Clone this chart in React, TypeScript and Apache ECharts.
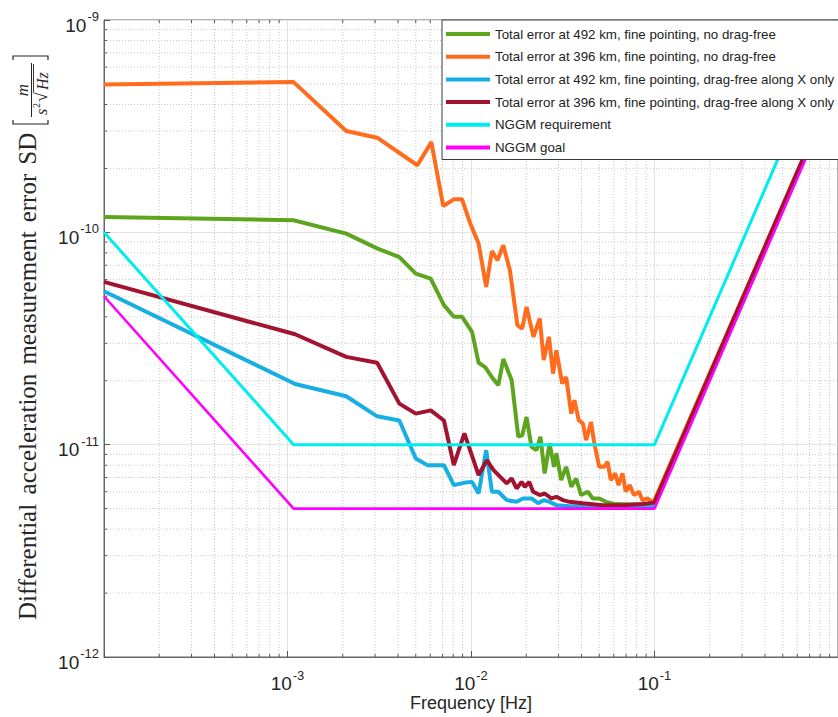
import React, { useEffect, useRef } from "react";
import * as echarts from "echarts";

// ---------- data ----------
const seriesNames = [
  "Total error at 492 km, fine pointing, no drag-free",
  "Total error at 396 km, fine pointing, no drag-free",
  "Total error at 492 km, fine pointing, drag-free along X only",
  "Total error at 396 km, fine pointing, drag-free along X only",
  "NGGM requirement",
  "NGGM goal",
];
const seriesColors = ["#5ea51f", "#ff6c1e", "#17afe3", "#a2132f", "#00eded", "#ff00ff"];
const seriesWidths = [4, 4, 4, 4, 3, 2.6];

const freqGreen = [1e-4, 1.08e-3, 2.09e-3, 3.1e-3, 4.07e-3, 5.0e-3, 6.03e-3, 7.12e-3, 8.06e-3, 8.94e-3, 1.013e-2, 1.1e-2, 1.195e-2, 1.3e-2, 1.41e-2, 1.5e-2, 1.666e-2, 1.81e-2, 1.905e-2, 2.007e-2, 2.136e-2, 2.274e-2, 2.39e-2, 2.52e-2, 2.68e-2, 2.835e-2, 2.92e-2, 3.1e-2, 3.3e-2, 3.52e-2, 3.74e-2, 3.98e-2, 4.33e-2, 4.61e-2, 5.0e-2, 5.43e-2, 6.12e-2, 0.1, 1];
const valGreen = [1.18e-10, 1.14e-10, 9.86e-11, 8.38e-11, 7.65e-11, 6.39e-11, 6.05e-11, 4.54e-11, 4.0e-11, 4.0e-11, 3.4e-11, 2.43e-11, 2.32e-11, 2.08e-11, 1.905e-11, 2.53e-11, 2.01e-11, 1.09e-11, 1.11e-11, 1.35e-11, 9.76e-12, 9.42e-12, 1.09e-11, 7.32e-12, 1.013e-11, 7.86e-12, 9.09e-12, 6.81e-12, 7.86e-12, 6.33e-12, 6.93e-12, 5.79e-12, 6.0e-12, 5.58e-12, 5.58e-12, 5.38e-12, 5.25e-12, 5.2e-12, 5.2e-10];

const freqOrange = [1e-4, 1.08e-3, 2.09e-3, 3.08e-3, 5.1e-3, 6.08e-3, 7.06e-3, 8.06e-3, 8.94e-3, 9.91e-3, 1.1e-2, 1.21e-2, 1.3e-2, 1.394e-2, 1.5e-2, 1.63e-2, 1.79e-2, 1.9e-2, 2.007e-2, 2.19e-2, 2.37e-2, 2.49e-2, 2.66e-2, 2.8e-2, 2.92e-2, 3.14e-2, 3.3e-2, 3.52e-2, 3.66e-2, 3.87e-2, 4.07e-2, 4.24e-2, 4.51e-2, 4.7e-2, 5.0e-2, 5.32e-2, 5.55e-2, 5.78e-2, 6.1e-2, 6.37e-2, 6.69e-2, 6.97e-2, 7.33e-2, 7.73e-2, 8.23e-2, 8.58e-2, 9.13e-2, 9.72e-2, 0.1, 1];
const valOrange = [4.97e-10, 5.1e-10, 3.0e-10, 2.79e-10, 2.07e-10, 2.66e-10, 1.33e-10, 1.43e-10, 1.43e-10, 1.1e-10, 8.85e-11, 5.53e-11, 8.17e-11, 7.38e-11, 8.69e-11, 6.62e-11, 3.65e-11, 3.52e-11, 4.45e-11, 3.22e-11, 3.93e-11, 2.5e-11, 3.22e-11, 2.16e-11, 2.78e-11, 1.94e-11, 2.08e-11, 1.4e-11, 1.62e-11, 1.3e-11, 1.26e-11, 1.05e-11, 1.28e-11, 1.013e-11, 7.86e-12, 7.86e-12, 8.3e-12, 6.81e-12, 7.32e-12, 6.45e-12, 7.32e-12, 6.0e-12, 6.45e-12, 5.79e-12, 6.0e-12, 5.48e-12, 5.58e-12, 5.38e-12, 5.48e-12, 5.3e-10];

const freqBlue = [1e-4, 1.1e-3, 2.09e-3, 3.08e-3, 4.07e-3, 5.0e-3, 5.78e-3, 7.12e-3, 8.06e-3, 9.13e-3, 1.013e-2, 1.1e-2, 1.21e-2, 1.3e-2, 1.41e-2, 1.565e-2, 1.773e-2, 1.92e-2, 2.136e-2, 2.32e-2, 2.49e-2, 2.68e-2, 2.92e-2, 3.44e-2, 0.1, 1];
const valBlue = [5.28e-11, 1.93e-11, 1.69e-11, 1.36e-11, 1.3e-11, 8.61e-12, 8.01e-12, 8.01e-12, 6.45e-12, 6.61e-12, 6.68e-12, 5.89e-12, 9.42e-12, 6.0e-12, 6.0e-12, 5.48e-12, 5.38e-12, 5.58e-12, 5.58e-12, 5.3e-12, 5.48e-12, 5.38e-12, 5.19e-12, 5.13e-12, 5.13e-12, 5.13e-10];

const freqRed = [1e-4, 1.1e-3, 2.09e-3, 3.08e-3, 4.07e-3, 5.0e-3, 6.03e-3, 7.12e-3, 8.06e-3, 9.2e-3, 1.1e-2, 1.22e-2, 1.327e-2, 1.565e-2, 1.666e-2, 1.773e-2, 1.887e-2, 1.966e-2, 2.077e-2, 2.18e-2, 2.37e-2, 2.52e-2, 2.74e-2, 2.92e-2, 3.17e-2, 3.44e-2, 4.07e-2, 5.22e-2, 6.69e-2, 8.58e-2, 9.72e-2, 0.1, 1];
const valRed = [5.84e-11, 3.31e-11, 2.59e-11, 2.43e-11, 1.56e-11, 1.4e-11, 1.45e-11, 1.3e-11, 8.01e-12, 1.13e-11, 7.19e-12, 8.45e-12, 7.59e-12, 6.57e-12, 6.93e-12, 6.22e-12, 6.68e-12, 6.33e-12, 6.68e-12, 6.0e-12, 5.79e-12, 5.89e-12, 5.58e-12, 5.68e-12, 5.48e-12, 5.38e-12, 5.3e-12, 5.19e-12, 5.19e-12, 5.25e-12, 5.32e-12, 5.35e-12, 5.35e-10];

const freqReq = [1e-4, 1.08e-3, 0.1, 1];
const valReq = [1e-10, 1e-11, 1e-11, 1e-9];
const freqGoal = [1e-4, 1.08e-3, 0.1, 1];
const valGoal = [5e-11, 5e-12, 5e-12, 5e-10];

const xMinor = [2e-4, 3e-4, 4e-4, 5e-4, 6e-4, 7e-4, 8e-4, 9e-4, 2e-3, 3e-3, 4e-3, 5e-3, 6e-3, 7e-3, 8e-3, 9e-3, 2e-2, 3e-2, 4e-2, 5e-2, 6e-2, 7e-2, 8e-2, 9e-2, 2e-1, 3e-1, 4e-1, 5e-1, 6e-1, 7e-1, 8e-1, 9e-1];
const yMinor = [2e-12, 3e-12, 4e-12, 5e-12, 6e-12, 7e-12, 8e-12, 9e-12, 2e-11, 3e-11, 4e-11, 5e-11, 6e-11, 7e-11, 8e-11, 9e-11, 2e-10, 3e-10, 4e-10, 5e-10, 6e-10, 7e-10, 8e-10, 9e-10];

const xTickLabels = [1e-3, 1e-2, 1e-1];
const yTickLabels = [1e-12, 1e-11, 1e-10, 1e-9];

const X_MIN = 1e-4;
const X_MAX = 1;
const Y_MIN = 1e-12;
const Y_MAX = 1e-9;

const xLabel = "Frequency [Hz]";
const yLabelWords = ["Differential", "acceleration", "measurement", "error", "SD"];

const pairs = (f: number[], v: number[]) => f.map((x, i) => [x, v[i]]);

const SANS = "'Liberation Sans', Arial, Helvetica, sans-serif";
const SERIF = "'Liberation Serif', 'Times New Roman', serif";
const INK = "#262626";
const BASE_FS = 19;
const SUP_FS = 13;
const supWidth = (s: string) => {
  let w = 0;
  for (const c of s) w += c === "-" ? 0.333 : 0.556;
  return w * SUP_FS;
};
const baseWidth = 1.112 * BASE_FS;

export default function App() {
  const ref = useRef<HTMLDivElement>(null);

  useEffect(() => {
    if (!ref.current) return;
    const chart = echarts.init(ref.current, undefined, { renderer: "svg" });

    const datasets = [
      pairs(freqGreen, valGreen),
      pairs(freqOrange, valOrange),
      pairs(freqBlue, valBlue),
      pairs(freqRed, valRed),
      pairs(freqReq, valReq),
      pairs(freqGoal, valGoal),
    ];

    const minorV = {
      type: "custom",
      silent: true,
      z: 1,
      data: xMinor.map((x) => [x, Y_MIN]),
      renderItem: (params: any, api: any) => {
        const p = api.coord([api.value(0), api.value(1)]);
        const cs = params.coordSys;
        return {
          type: "group",
          children: [
            { type: "line", shape: { x1: p[0], y1: cs.y, x2: p[0], y2: cs.y + cs.height }, style: { stroke: "#c8c8c8", lineWidth: 1, lineDash: [1, 2] } },
            { type: "line", shape: { x1: p[0], y1: cs.y + cs.height, x2: p[0], y2: cs.y + cs.height - 3 }, style: { stroke: "#555", lineWidth: 1 } },
            { type: "line", shape: { x1: p[0], y1: cs.y, x2: p[0], y2: cs.y + 3 }, style: { stroke: "#555", lineWidth: 1 } },
          ],
        };
      },
    };
    const minorH = {
      type: "custom",
      silent: true,
      z: 1,
      data: yMinor.map((y) => [X_MIN, y]),
      renderItem: (params: any, api: any) => {
        const p = api.coord([api.value(0), api.value(1)]);
        const cs = params.coordSys;
        return {
          type: "group",
          children: [
            { type: "line", shape: { x1: cs.x, y1: p[1], x2: cs.x + cs.width, y2: p[1] }, style: { stroke: "#c8c8c8", lineWidth: 1, lineDash: [1, 2] } },
            { type: "line", shape: { x1: cs.x, y1: p[1], x2: cs.x + 3, y2: p[1] }, style: { stroke: "#555", lineWidth: 1 } },
          ],
        };
      },
    };

    // tick labels "10^n" drawn through the axes' scales
    const xLabels = {
      type: "custom",
      silent: true,
      z: 5,
      clip: false,
      data: xTickLabels.map((x) => [x, Y_MIN]),
      renderItem: (params: any, api: any) => {
        const v = api.value(0);
        const p = api.coord([v, Y_MIN]);
        const e = String(Math.round(Math.log10(v)));
        const total = baseWidth + 1 + supWidth(e);
        const left = p[0] - total / 2;
        return {
          type: "group",
          children: [
            { type: "text", x: left, y: p[1] + 26, style: { text: "10", fontSize: BASE_FS, fontFamily: SANS, fill: INK, align: "left", verticalAlign: "middle" } },
            { type: "text", x: left + baseWidth + 1, y: p[1] + 18.5, style: { text: e, fontSize: SUP_FS, fontFamily: SANS, fill: INK, align: "left", verticalAlign: "middle" } },
          ],
        };
      },
    };
    const yLabels = {
      type: "custom",
      silent: true,
      z: 5,
      clip: false,
      data: yTickLabels.map((y) => [X_MIN, y]),
      renderItem: (params: any, api: any) => {
        const v = api.value(1);
        const p = api.coord([X_MIN, v]);
        const e = String(Math.round(Math.log10(v)));
        const right = p[0] - 5;
        return {
          type: "group",
          children: [
            { type: "text", x: right - supWidth(e) - 1, y: p[1] + 5, style: { text: "10", fontSize: BASE_FS, fontFamily: SANS, fill: INK, align: "right", verticalAlign: "middle" } },
            { type: "text", x: right, y: p[1] - 3.5, style: { text: e, fontSize: SUP_FS, fontFamily: SANS, fill: INK, align: "right", verticalAlign: "middle" } },
          ],
        };
      },
    };

    const lineSeries = seriesNames.map((name, i) => ({
      name,
      type: "line",
      data: datasets[i],
      showSymbol: false,
      symbol: "none",
      z: 3,
      clip: true,
      lineStyle: { color: seriesColors[i], width: seriesWidths[i] },
      itemStyle: { color: seriesColors[i] },
      emphasis: { disabled: true },
    }));

    // y-axis title (rotated, built from text elements)
    const wordPos = [0, 125.6, 255.4, 397.7, 455.3];
    const yTitle = {
      type: "group",
      x: 27,
      y: 620,
      rotation: Math.PI / 2,
      silent: true,
      children: [
        ...yLabelWords.map((w, i) => ({
          type: "text",
          x: wordPos[i],
          y: 0,
          style: { text: w, fontFamily: SERIF, fontSize: 25, fill: INK, align: "left", verticalAlign: "middle" },
        })),
        { type: "polyline", shape: { points: [[500, -14], [496, -14], [496, 21], [500, 21]] }, style: { stroke: INK, lineWidth: 1.2, fill: null } },
        { type: "polyline", shape: { points: [[560, -14], [564, -14], [564, 21], [560, 21]] }, style: { stroke: INK, lineWidth: 1.2, fill: null } },
        { type: "line", shape: { x1: 503, y1: 4.5, x2: 557, y2: 4.5 }, style: { stroke: INK, lineWidth: 1 } },
        { type: "text", x: 530, y: -4.5, style: { text: "m", fontFamily: SERIF, fontStyle: "italic", fontSize: 17, fill: INK, align: "center", verticalAlign: "middle" } },
        { type: "text", x: 505, y: 14.5, style: { text: "s", fontFamily: SERIF, fontStyle: "italic", fontSize: 16, fill: INK, align: "left", verticalAlign: "middle" } },
        { type: "text", x: 512, y: 9, style: { text: "2", fontFamily: SERIF, fontSize: 10, fill: INK, align: "left", verticalAlign: "middle" } },
        { type: "text", x: 518, y: 13.5, style: { text: "\u221A", fontFamily: SERIF, fontSize: 18, fill: INK, align: "left", verticalAlign: "middle" } },
        { type: "line", shape: { x1: 528, y1: 6.5, x2: 556, y2: 6.5 }, style: { stroke: INK, lineWidth: 0.9 } },
        { type: "text", x: 530, y: 15, style: { text: "Hz", fontFamily: SERIF, fontStyle: "italic", fontSize: 16, fill: INK, align: "left", verticalAlign: "middle" } },
      ],
    };

    const option: any = {
      animation: false,
      backgroundColor: "#ffffff",
      grid: {
        left: 104,
        top: 20,
        width: 740,
        height: 637,
        show: true,
        borderColor: "#666",
        borderWidth: 1,
        backgroundColor: "transparent",
        containLabel: false,
      },
      xAxis: {
        type: "log",
        logBase: 10,
        min: X_MIN,
        max: X_MAX,
        name: xLabel,
        nameLocation: "middle",
        nameGap: 37,
        nameTextStyle: { fontFamily: SANS, fontSize: 18, color: INK },
        axisLine: { show: true, lineStyle: { color: "#666", width: 1 } },
        axisTick: { show: true, inside: true, length: 6, lineStyle: { color: "#555" } },
        axisLabel: { show: false },
        splitLine: { show: true, lineStyle: { color: "#e2e2e2", width: 1, type: "solid" } },
      },
      yAxis: {
        type: "log",
        logBase: 10,
        min: Y_MIN,
        max: Y_MAX,
        axisLine: { show: true, lineStyle: { color: "#666", width: 1 } },
        axisTick: { show: true, inside: true, length: 6, lineStyle: { color: "#555" } },
        axisLabel: { show: false },
        splitLine: { show: true, lineStyle: { color: "#e2e2e2", width: 1, type: "solid" } },
      },
      legend: {
        show: true,
        orient: "vertical",
        left: 442,
        top: 20,
        data: seriesNames,
        icon: "rect",
        itemWidth: 44,
        itemHeight: 4,
        itemGap: 6.7,
        padding: [6, 8, 4, 4],
        backgroundColor: "#ffffff",
        borderColor: "#3a3a3a",
        borderWidth: 1,
        borderRadius: 0,
        selectedMode: false,
        textStyle: {
          fontFamily: SANS,
          fontSize: 13.3,
          lineHeight: 16,
          color: "#222",
        },
      },
      graphic: [yTitle],
      series: [minorV, minorH, ...lineSeries, xLabels, yLabels],
    };

    chart.setOption(option);
    return () => chart.dispose();
  }, []);

  return (
    <div
      ref={ref}
      style={{ position: "absolute", left: 0, top: 0, width: 838, height: 717, background: "#fff" }}
    />
  );
}
